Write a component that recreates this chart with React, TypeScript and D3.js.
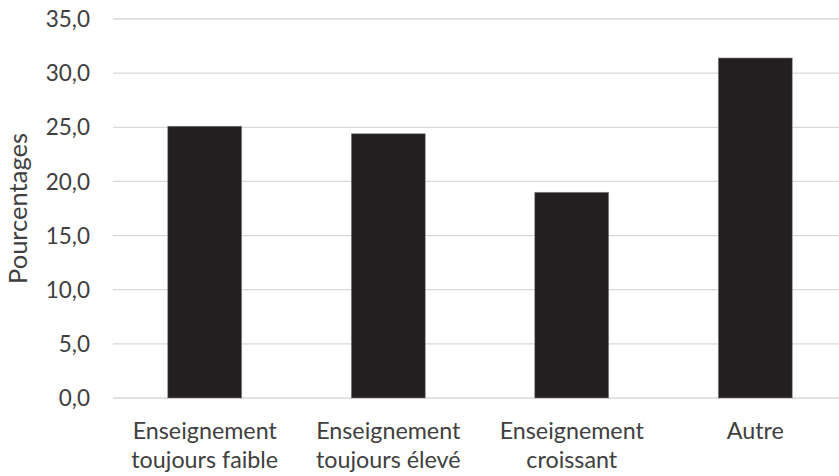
import React from "react";
import * as d3 from "d3";

const categories: string[][] = [
  ["Enseignement", "toujours faible"],
  ["Enseignement", "toujours élevé"],
  ["Enseignement", "croissant"],
  ["Autre"],
];
const values: number[] = [25.1, 24.4, 19.0, 31.4];
const yTicks: number[] = [0, 5, 10, 15, 20, 25, 30, 35];
const yTitle = "Pourcentages";

const W = 839;
const H = 476;
const M = { left: 113, right: -8, top: 19, bottom: 78 };

export default function App() {
  const x = d3
    .scaleBand<number>()
    .domain(values.map((_, i) => i))
    .range([M.left, W - M.right])
    .paddingInner(0.597)
    .paddingOuter(0.2985);
  const y = d3.scaleLinear().domain([0, 35]).range([H - M.bottom, M.top]);
  const fmt = (v: number) => v.toFixed(1).replace(".", ",");
  const font = "Lato, 'Open Sans', sans-serif";
  const textColor = "#404040";

  return (
    <svg
      width={W}
      height={H}
      style={{ position: "absolute", left: 0, top: 0, background: "#fff" }}
      fontFamily={font}
    >
      {yTicks.map((t) => (
        <g key={t}>
          <line x1={M.left} x2={W} y1={y(t)} y2={y(t)} stroke="#d9d9d9" strokeWidth={1.3} />
          <text x={90} y={y(t)} dy="0.36em" textAnchor="end" fontSize={22.5} fill={textColor}>
            {fmt(t)}
          </text>
        </g>
      ))}
      {values.map((v, i) => (
        <rect
          key={i}
          x={x(i)!}
          y={y(v)}
          width={x.bandwidth()}
          height={y(0) - y(v)}
          fill="#231f20"
          stroke="#8a8a8a"
          strokeWidth={0.6}
        />
      ))}
      {categories.map((lines, i) => (
        <text
          key={i}
          x={x(i)! + x.bandwidth() / 2}
          y={439}
          textAnchor="middle"
          fontSize={23.3}
          fill={textColor}
        >
          {lines.map((l, j) => (
            <tspan key={j} x={x(i)! + x.bandwidth() / 2} dy={j === 0 ? 0 : 29}>
              {l}
            </tspan>
          ))}
        </text>
      ))}
      <text
        transform={`translate(27, ${(y(0) + y(35)) / 2}) rotate(-90)`}
        textAnchor="middle"
        fontSize={25.5}
        fill={textColor}
      >
        {yTitle}
      </text>
    </svg>
  );
}
